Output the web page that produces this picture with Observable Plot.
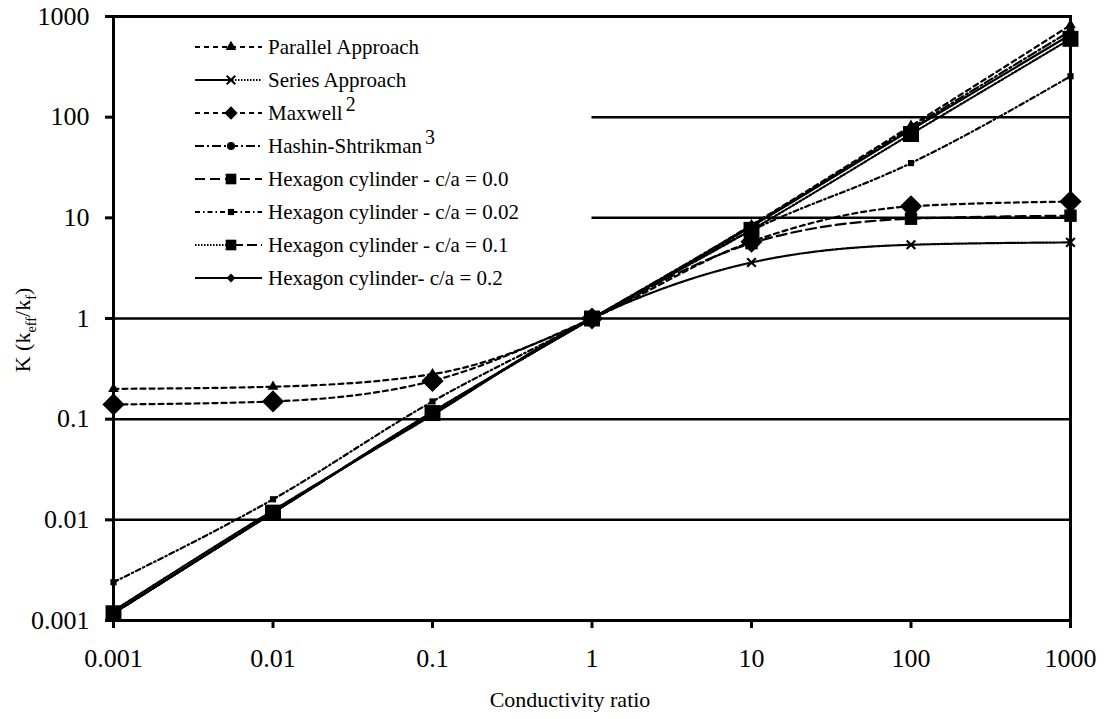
<!DOCTYPE html>
<html><head><meta charset="utf-8">
<script src="https://cdn.jsdelivr.net/npm/d3@7"></script>
<script src="https://cdn.jsdelivr.net/npm/@observablehq/plot@0.6"></script>
<style>
body{margin:0;background:#fff;}
#wrap{position:relative;width:1109px;height:719px;font-family:"Liberation Serif",serif;color:#000;overflow:hidden;}
.row{position:absolute;left:195px;height:30px;display:flex;align-items:center;white-space:nowrap;font-size:21px;}
.row svg{margin-right:6px;}
.row sup{font-size:0.95em;vertical-align:0.45em;line-height:0;margin-left:3px;}
#ylab{position:absolute;left:25px;top:330px;transform:translate(-50%,-50%) rotate(-90deg);font-size:22px;white-space:nowrap;}
#ylab sub{font-size:0.65em;}
</style></head><body><div id="wrap"></div>
<script>
// ---- data ----
const ratios = [0.001, 0.01, 0.1, 1, 10, 100, 1000];
const tickLabels = ["0.001", "0.01", "0.1", "1", "10", "100", "1000"];
const seriesNames = ["Parallel Approach", "Series Approach", "Maxwell", "Hashin-Shtrikman",
  "Hexagon cylinder - c/a = 0.0", "Hexagon cylinder - c/a = 0.02", "Hexagon cylinder - c/a = 0.1", "Hexagon cylinder- c/a = 0.2"];
const parallelK = [0.2, 0.21, 0.28, 1, 8.5, 82, 820];
const seriesK = [0.00125, 0.0124, 0.11, 1, 3.6, 5.4, 5.7];
const maxwellK = [0.14, 0.15, 0.24, 1, 5.8, 13, 14.5];
const hashinK = [0.00118, 0.0118, 0.118, 1, 8.4, 78, 720];
const hex00K = [0.00118, 0.0118, 0.115, 1, 5.6, 9.8, 10.5];
const hex002K = [0.0024, 0.016, 0.15, 1, 7.5, 35, 255];
const hex01K = [0.00118, 0.0118, 0.115, 1, 7.6, 68, 600];
const hex02K = [0.00118, 0.0118, 0.118, 1, 8.2, 75, 660];
const allValues = [parallelK, seriesK, maxwellK, hashinK, hex00K, hex002K, hex01K, hex02K];
const fullGrid = [1, 0.1, 0.01];
const partialGrid = [100, 10];

// ---- styles ----
const styles = [
  {dash: "5,4", sym: "triangle", r: 4, fill: true},
  {dash: "2,1.5", sym: "times", r: 4, fill: false},
  {dash: "5,4", sym: "diamond2", r: 10, fill: true},
  {dash: "9,3,2,3", sym: "circle", r: 4, fill: true},
  {dash: "10,5", sym: "square", r: 7, fill: true},
  {dash: "5,3,1.5,3", sym: "square", r: 3.5, fill: true},
  {dash: "2,2", sym: "square", r: 9, fill: true},
  {dash: null, sym: "diamond2", r: 4, fill: true}
];

const labelFor = d => tickLabels[Math.round(Math.log10(d)) + 3];

const rows = [];
allValues.forEach((vals, s) => vals.forEach((v, i) => rows.push({s, x: ratios[i], y: v})));

const marks = [
  Plot.ruleY(fullGrid, {stroke: "#000", strokeWidth: 2.5}),
  Plot.ruleY(partialGrid, {x1: 1, x2: 1000, stroke: "#000", strokeWidth: 2.5}),
  Plot.frame({stroke: "#000", strokeWidth: 3}),
  Plot.axisX(ratios, {tickFormat: labelFor, tickSize: 8, tickPadding: 20, fontSize: 26, label: null, strokeWidth: 3}),
  Plot.axisY(ratios, {tickFormat: labelFor, tickSize: 8, tickPadding: 16, fontSize: 26, label: null, strokeWidth: 3}),
];
styles.forEach((st, s) => {
  const data = rows.filter(d => d.s === s);
  marks.push(Plot.line(data, {x: "x", y: "y", curve: "monotone-x", stroke: "#000", strokeWidth: 2.2, strokeDasharray: st.dash}));
});
styles.forEach((st, s) => {
  const data = rows.filter(d => d.s === s);
  marks.push(Plot.dot(data, st.fill
    ? {x: "x", y: "y", symbol: st.sym, r: st.r, fill: "#000", stroke: "none"}
    : {x: "x", y: "y", symbol: st.sym, r: st.r, stroke: "#000", strokeWidth: 2.2}));
});
marks.push(Plot.text(["Conductivity ratio"], {frameAnchor: "bottom", dy: 86, dx: -22, fontSize: 22}));

const chart = Plot.plot({
  width: 1109, height: 719,
  marginLeft: 113, marginRight: 39, marginTop: 16, marginBottom: 99,
  style: {fontFamily: "Liberation Serif, serif", fontSize: "26px", color: "#000", background: "#fff"},
  x: {type: "log", domain: [0.001, 1000]},
  y: {type: "log", domain: [0.001, 1000]},
  marks
});
const wrap = document.getElementById("wrap");
wrap.appendChild(chart);

// ---- legend ----
function glyph(st, s) {
  const sym = d3.symbol().type({
    triangle: d3.symbolTriangle, times: d3.symbolTimes, diamond2: d3.symbolDiamond2,
    circle: d3.symbolCircle, square: d3.symbolSquare}[st.sym]).size(Math.PI * Math.min(st.r, 6) ** 2)();
  const dash = st.dash ? `stroke-dasharray="${st.dash}"` : "";
  let lines;
  if (s === 1) lines = `<line x1="0" x2="37" y1="10" y2="10" stroke="#000" stroke-width="1.8"/><line x1="37" x2="67" y1="10" y2="10" stroke="#000" stroke-width="1.8" stroke-dasharray="1.5,1.5"/>`;
  else if (s === 6) lines = `<line x1="0" x2="32" y1="10" y2="10" stroke="#000" stroke-width="1.8" stroke-dasharray="1.5,1.5"/><line x1="38" x2="67" y1="10" y2="10" stroke="#000" stroke-width="2" stroke-dasharray="10,4"/>`;
  else lines = `<line x1="0" x2="67" y1="10" y2="10" stroke="#000" stroke-width="2" ${dash}/>`;
  const marker = st.fill ? `<path d="${sym}" transform="translate(36,10)" fill="#000"/>`
    : `<path d="${sym}" transform="translate(36,10)" fill="none" stroke="#000" stroke-width="2"/>`;
  return `<svg width="67" height="20">${lines}${marker}</svg>`;
}
const sups = [null, null, "2", "3", null, null, null, null];
const rowY = [47, 80, 113, 146, 179, 212, 245, 278];
seriesNames.forEach((name, s) => {
  const div = document.createElement("div");
  div.className = "row";
  div.style.top = (rowY[s] - 15) + "px";
  div.innerHTML = glyph(styles[s], s) + `<span>${name}${sups[s] ? `<sup>${sups[s]}</sup>` : ""}</span>`;
  wrap.appendChild(div);
});
const yl = document.createElement("div");
yl.id = "ylab";
yl.innerHTML = "K (k<sub>eff</sub>/k<sub>f</sub>)";
wrap.appendChild(yl);
</script>
</body></html>
